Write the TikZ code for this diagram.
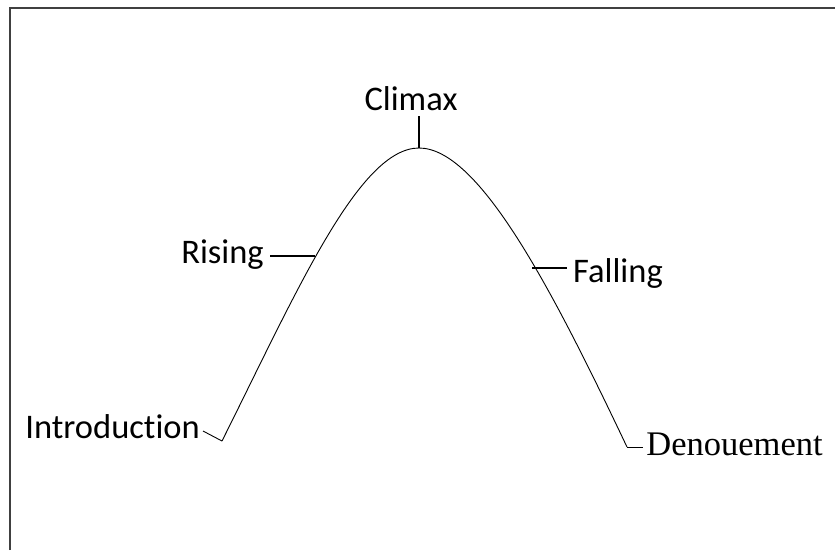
\documentclass[tikz,border=0pt]{standalone}
\usepackage{fontspec}
\setmainfont{Carlito}[Ligatures=NoCommon]
\newfontfamily\serifdn{Liberation Serif}
\begin{document}
\begin{tikzpicture}[x=1pt,y=-1pt,
  lbl/.style={inner sep=0pt,anchor=base,font=\fontsize{34.5}{38}\selectfont},
  serlbl/.style={inner sep=0pt,anchor=base,font=\serifdn\fontsize{34.5}{38}\selectfont},
  arc/.style={line width=0.9pt,black},
  leader/.style={line width=1.3pt,black},
  frame/.style={line width=2pt,draw=black!75}]
\useasboundingbox (0,0) rectangle (835,550);
% frame (only left and top edges visible)
\draw[frame] (9.5,550) -- (9.5,7.5) -- (835,7.5);
% curve points
\coordinate (start) at (222,441);
\coordinate (peak) at (419,148);
\coordinate (end) at (627,447);
\coordinate (risept) at (315,256);
\coordinate (fallpt) at (532,268);
% the arc
\draw[arc] (start) .. controls (297,291) and (359,148) .. (peak)
                   .. controls (479,148) and (552,289) .. (end);
% labels
\node[lbl] (climax) at (411,110) {Climax};
\node[lbl] (rising) at (222.5,263) {Rising};
\node[lbl] (falling) at (618,282) {Falling};
\node[lbl] (intro) at (112.6,438) {Introduction};
\node[serlbl] (denou) at (734.5,455) {Denouement};
% leader lines
\coordinate (climaxtop) at (419,116);
\coordinate (risel) at (270,256);
\coordinate (faller) at (567,268);
\coordinate (introl) at (203,431);
\coordinate (denour) at (643,447);
\draw[leader] (climaxtop) -- (peak);
\draw[leader] (risel) -- (risept);
\draw[leader] (fallpt) -- (faller);
\draw[arc] (introl) -- (start);
\draw[arc] (end) -- (denour);
\end{tikzpicture}
\end{document}
